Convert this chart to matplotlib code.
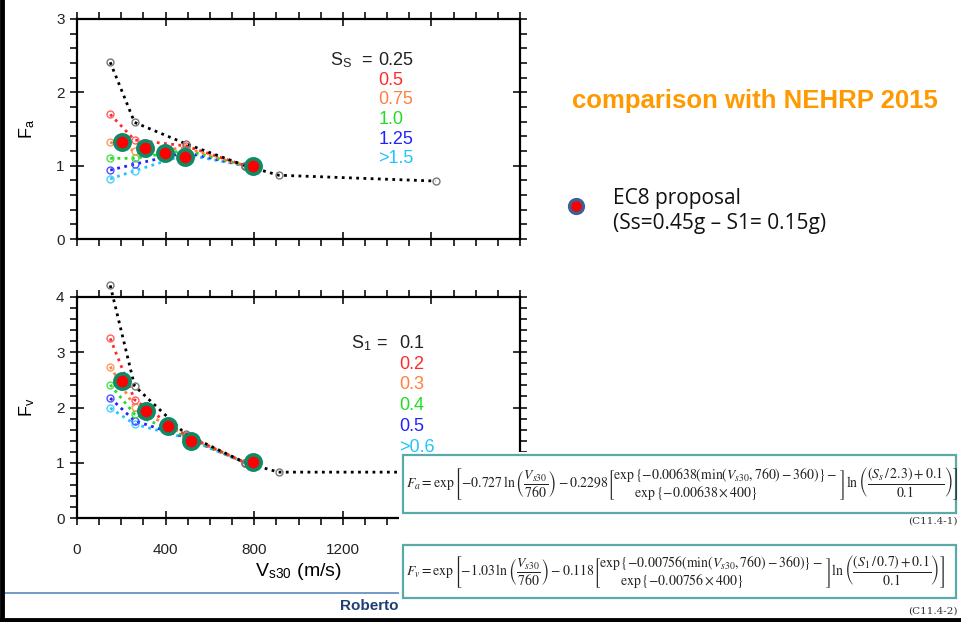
import matplotlib.pyplot as plt
from matplotlib.patches import Rectangle
from matplotlib.lines import Line2D
from matplotlib.ticker import MultipleLocator

plt.rcParams['font.family'] = ['Liberation Sans', 'DejaVu Sans']
plt.rcParams['mathtext.fontset'] = 'stix'

# NEHRP 2015 site coefficients
vs_nehrp = [150, 260, 490, 760]
vs_black = [150, 260, 490, 760, 910, 1620]

ss_labels = ['0.25', '0.5', '0.75', '1.0', '1.25', '>1.5']
fa_black = [2.41, 1.59, 1.30, 1.00, 0.87, 0.79]
fa_red = [1.70, 1.35, 1.27, 1.00]
fa_orange = [1.32, 1.20, 1.24, 1.00]
fa_green = [1.10, 1.10, 1.21, 1.00]
fa_blue = [0.94, 1.02, 1.18, 1.00]
fa_cyan = [0.82, 0.93, 1.15, 1.00]

s1_labels = ['0.1', '0.2', '0.3', '0.4', '0.5', '>0.6']
fv_black = [4.21, 2.39, 1.52, 1.00, 0.83, 0.83]
fv_red = [3.25, 2.14, 1.50, 1.00]
fv_orange = [2.74, 2.01, 1.49, 1.00]
fv_green = [2.41, 1.88, 1.47, 1.00]
fv_blue = [2.17, 1.76, 1.46, 1.00]
fv_cyan = [1.99, 1.70, 1.45, 1.00]

# EC8 proposal (Ss=0.45g, S1=0.15g)
ec8_vs_a = [203, 308, 397, 489, 796]
ec8_fa = [1.32, 1.24, 1.17, 1.12, 0.99]
ec8_vs_v = [203, 311, 409, 515, 796]
ec8_fv = [2.48, 1.94, 1.67, 1.40, 1.01]

# x tick labels (1600 and 2000 sit under the formula panel in the slide)
vs_ticks = [0, 400, 800, 1200, 1600, 2000]
vs_ticklabels = ['0', '400', '800', '1200', '', '']

colors = ['#000000', '#ff2a2a', '#ff8040', '#22dd22', '#2222ff', '#22c4ff']
marker_colors = ['#777777', '#ff6060', '#ff9a60', '#50e050', '#5050ff', '#50d0ff']

fig = plt.figure(figsize=(9.61, 6.22), dpi=100)
W, H = 961, 622


def ax_box(x0, y0, x1, y1):
    return [x0 / W, 1 - y1 / H, (x1 - x0) / W, (y1 - y0) / H]


def style_axes(ax, ymax):
    ax.set_xlim(0, 2000)
    ax.set_ylim(0, ymax)
    ax.set_xticks(vs_ticks)
    ax.xaxis.set_minor_locator(MultipleLocator(100))
    ax.yaxis.set_major_locator(MultipleLocator(1))
    ax.yaxis.set_minor_locator(MultipleLocator(0.2))
    ax.tick_params(which='both', top=True, right=True, labelsize=11,
                   colors='#222222', width=1.3)
    ax.tick_params(which='major', direction='inout', length=10, pad=4)
    ax.tick_params(which='minor', direction='out', length=5)
    ax.tick_params(axis='x', which='major', pad=13)
    for s in ax.spines.values():
        s.set_linewidth(1.6)


def draw_curves(ax, curves):
    for i, ys in enumerate(curves):
        xs = vs_black if i == 0 else vs_nehrp
        ax.plot(xs, ys, linestyle=(0, (1, 1.6)), color=colors[i], lw=2.0,
                marker='o', ms=5, mfc='none', mec=marker_colors[i], mew=1.0,
                clip_on=False, zorder=3 - i * 0.1)


ax1 = fig.add_axes(ax_box(77, 19, 520, 239))
style_axes(ax1, 3)
ax1.set_xticklabels([])
draw_curves(ax1, [fa_black, fa_red, fa_orange, fa_green, fa_blue, fa_cyan])
ax1.plot(ec8_vs_a, ec8_fa, 'o', ms=11, mfc='#ff0000', mec='#0e8a66', mew=2.6,
         zorder=5)
ax1.set_ylabel('F$_{\\mathregular{a}}$', fontsize=13, labelpad=14)
ax1.text(0.572, 0.81, 'S$_{\\mathregular{S}}$  =', transform=ax1.transAxes,
         fontsize=13, color='#222222', ha='left', va='center')
for i, lab in enumerate(ss_labels):
    ax1.text(0.68, 0.81 - i * 0.089, lab, transform=ax1.transAxes,
             fontsize=13, color=colors[i] if i else '#222222', va='center')

ax2 = fig.add_axes(ax_box(77, 297, 520, 518))
style_axes(ax2, 4)
ax2.set_xticklabels(vs_ticklabels)
draw_curves(ax2, [fv_black, fv_red, fv_orange, fv_green, fv_blue, fv_cyan])
ax2.plot(ec8_vs_v, ec8_fv, 'o', ms=11, mfc='#ff0000', mec='#0e8a66', mew=2.6,
         zorder=5)
ax2.set_ylabel('F$_{\\mathregular{v}}$', fontsize=13, labelpad=14)
ax2.set_xlabel('V$_{\\mathregular{s30}}$ (m/s)', fontsize=14, labelpad=3)
ax2.text(0.618, 0.79, 'S$_{\\mathregular{1}}$ =', transform=ax2.transAxes,
         fontsize=13, color='#222222', ha='left', va='center')
for i, lab in enumerate(s1_labels):
    ax2.text(0.728, 0.79 - i * 0.094, lab, transform=ax2.transAxes,
             fontsize=13, color=colors[i] if i else '#222222', va='center')

# title and legend on the right
fig.text(755 / W, 1 - 101 / H, 'comparison with NEHRP 2015', fontsize=18.5,
         fontweight='bold', color='#ff9900', ha='center', va='center')
fig.add_artist(Line2D([576 / W], [1 - 206 / H], marker='o', ms=10,
                      mfc='#ff0000', mec='#3d5f95', mew=2.4))
fig.text(613 / W, 1 - 211 / H, 'EC8 proposal\n(Ss=0.45g \u2013 S1= 0.15g)',
         fontsize=15, family=['Open Sans', 'DejaVu Sans'], color='#111111',
         ha='left', va='center', linespacing=1.2)

# footer
fig.add_artist(Line2D([5 / W, 400 / W], [1 - 593 / H, 1 - 593 / H],
                      color='#5b8ac0', lw=1.2))
fig.text(340 / W, 1 - 606 / H, 'Roberto Paolucci', fontsize=11,
         fontweight='bold', color='#1f3f73', ha='left', va='center')

# white panel with the NEHRP formulas
fig.add_artist(Rectangle((399 / W, 0), 1 - 399 / W, 1 - 452 / H,
                         transform=fig.transFigure, facecolor='white',
                         edgecolor='none', zorder=10))
for (y0, y1) in [(455, 513), (545, 598)]:
    fig.add_artist(Rectangle((403 / W, 1 - y1 / H), (956 - 403) / W,
                             (y1 - y0) / H, transform=fig.transFigure,
                             facecolor='white', edgecolor='#5aaaa8', lw=1.6,
                             zorder=11))

eq_fa = (r'$F_a=\exp\left[-0.727\,\ln\left(\dfrac{V_{s30}}{760}\right)-0.2298'
         r'\left[\genfrac{}{}{0}{0}{\exp\{-0.00638(\min(V_{s30},760)-360)\}-}'
         r'{\exp\{-0.00638\times 400\}\qquad\qquad\qquad}\right]'
         r'\ln\left(\dfrac{(S_s\,/\,2.3)+0.1}{0.1}\right)\right]$')
eq_fv = (r'$F_v=\exp\left[-1.03\,\ln\left(\dfrac{V_{s30}}{760}\right)-0.118'
         r'\left[\genfrac{}{}{0}{0}{\exp\{-0.00756(\min(V_{s30},760)-360)\}-}'
         r'{\exp\{-0.00756\times 400\}\qquad\qquad\qquad}\right]'
         r'\ln\left(\dfrac{(S_1\,/\,0.7)+0.1}{0.1}\right)\right]$')
fig.text(406 / W, 1 - 484 / H, eq_fa, fontsize=9.9, ha='left', va='center',
         zorder=12, color='#222222')
fig.text(406 / W, 1 - 571 / H, eq_fv, fontsize=9.9, ha='left', va='center',
         zorder=12, color='#222222')
fig.text(958 / W, 1 - 521 / H, '(C11.4-1)', fontsize=7.5, family='serif',
         ha='right', va='center', zorder=12, color='#333333')
fig.text(958 / W, 1 - 611 / H, '(C11.4-2)', fontsize=7.5, family='serif',
         ha='right', va='center', zorder=12, color='#333333')

# slide frame (left and bottom)
fig.add_artist(Line2D([2 / W, 2 / W], [0, 1], color='black', lw=3.5, zorder=20))
fig.add_artist(Line2D([0, 1], [2 / H, 2 / H], color='black', lw=3.5, zorder=20))

fig.savefig('out.png', dpi=100)
